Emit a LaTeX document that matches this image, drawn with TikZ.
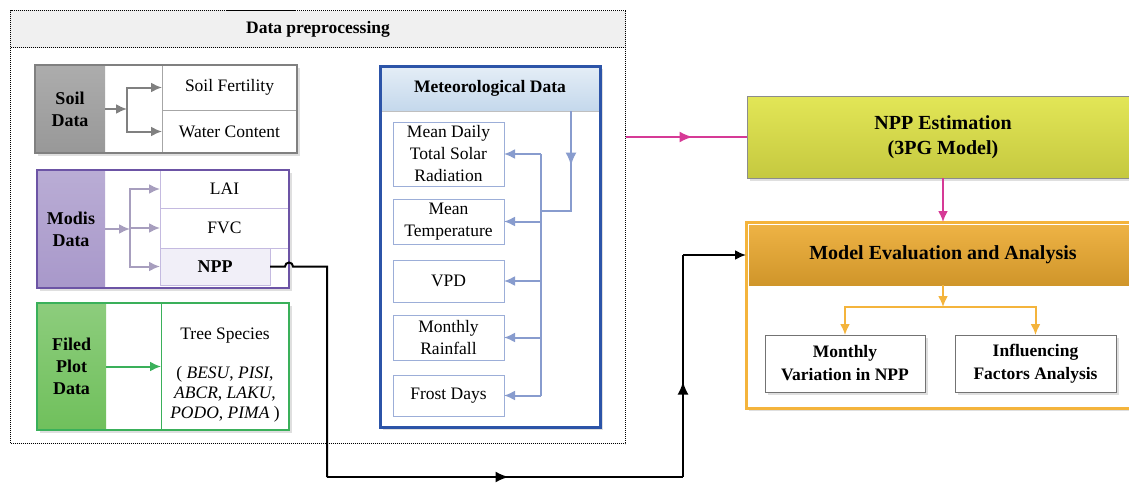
\documentclass[tikz,border=0pt]{standalone}
\usepackage{fontspec}
\setmainfont{Liberation Serif}
\usetikzlibrary{arrows.meta, shadows, decorations.markings}

\definecolor{soilgray}{RGB}{128,128,128}
\definecolor{soilfill}{RGB}{152,152,152}
\definecolor{modispurple}{RGB}{108,84,165}
\definecolor{modisfill}{RGB}{168,152,202}
\definecolor{modislight}{RGB}{196,186,224}
\definecolor{nppfill}{RGB}{241,239,248}
\definecolor{plotgreen}{RGB}{58,176,90}
\definecolor{plotfill}{RGB}{112,192,92}
\definecolor{metblue}{RGB}{44,84,168}
\definecolor{metlight}{RGB}{156,174,216}
\definecolor{metarrow}{RGB}{136,156,206}
\definecolor{methead}{RGB}{196,216,236}
\definecolor{estfill}{RGB}{224,228,72}
\definecolor{evalorange}{RGB}{244,180,60}
\definecolor{evalhead}{RGB}{236,170,48}
\definecolor{linkpink}{RGB}{214,58,150}

\begin{document}
\begin{tikzpicture}[x=1pt,y=1pt,yscale=-1,
  cell/.style={draw, line width=1pt, anchor=north west, inner sep=1pt, outer sep=0pt, align=center,
    font=\fontsize{17.5}{22}\selectfont},
  shade/.style={drop shadow={opacity=0.25, shadow xshift=3pt, shadow yshift=-3pt}},
  group/.style={draw, anchor=north west, inner sep=0pt, outer sep=0pt, fill=white,
    line width=2.5pt, shade},
  tag/.style={anchor=north west, inner sep=0pt, outer sep=0pt, align=center,
    font=\fontsize{18}{22}\selectfont\bfseries},
  link/.style={line width=2pt, -{Latex[length=11pt,width=10pt]}},
  midarrow/.style={postaction={decorate, decoration={markings,
    mark=at position #1 with {\arrow{Latex[length=13pt,width=11pt]}}}}},
]
\useasboundingbox (0,0) rectangle (1129,482);

%Shape: Rectangle -- preprocessing frame
\node[draw, densely dotted, line width=1pt, anchor=north west, inner sep=0pt,
  minimum width=615, minimum height=433] (prep) at (10,10) {};
\node[draw, densely dotted, line width=1pt, fill=black!6, anchor=north west, inner sep=0pt,
  minimum width=615, minimum height=37, font=\fontsize{17.5}{20}\selectfont\bfseries]
  (prephead) at (10,10) {Data preprocessing};

%Shape: Rectangle -- soil
\node[group, draw=soilgray, minimum width=262, minimum height=88] (soilbox) at (35,65) {};
\node[tag, top color=soilfill!80!white, bottom color=soilfill, minimum width=70, minimum height=88]
  (soil) at (35,65) {Soil\\Data};
\node[cell, draw=soilgray!70, minimum width=135, minimum height=45] (fert) at (162,65) {Soil Fertility};
\node[cell, draw=soilgray!70, minimum width=135, minimum height=43] (water) at (162,110) {Water Content};
\draw[soilgray, line width=2.5pt] (soilbox.north west) rectangle (soilbox.south east);

%Straight Lines
\coordinate (soilfork) at (127,109);
\draw[soilgray, link] (soil.east) -- (soilfork);
\draw[soilgray, link] (soilfork) |- (fert.west);
\draw[soilgray, link] (soilfork) |- (water.west);

%Shape: Rectangle -- modis
\node[group, draw=modispurple, minimum width=252, minimum height=118] (modisbox) at (37,170) {};
\node[tag, top color=modisfill!80!white, bottom color=modisfill, minimum width=68, minimum height=118]
  (modis) at (37,170) {Modis\\Data};
\node[cell, draw=modislight, minimum width=129, minimum height=38] (lai) at (160,170) {LAI};
\node[cell, draw=modislight, minimum width=129, minimum height=40] (fvc) at (160,208) {FVC};
\node[cell, draw=modislight, fill=nppfill, minimum width=110, minimum height=37,
  font=\fontsize{18}{22}\selectfont\bfseries] (npp) at (160,248) {NPP};
\draw[modispurple, line width=2.5pt] (modisbox.north west) rectangle (modisbox.south east);

%Straight Lines
\coordinate (modisfork) at (130,229);
\draw[modislight!85!black, link] (modis.east) -- (modisfork);
\foreach \c in {lai,fvc,npp}
  \draw[modislight!85!black, link] (modisfork) |- (\c.west);

%Shape: Rectangle -- field plot
\node[group, draw=plotgreen, minimum width=252, minimum height=127] (plotbox) at (37,303) {};
\node[tag, top color=plotfill!80!white, bottom color=plotfill, minimum width=69, minimum height=127]
  (plot) at (37,303) {Filed\\Plot\\Data};
\node[cell, draw=plotgreen, minimum width=128, minimum height=127, font=\fontsize{17.5}{20}\selectfont]
  (species) at (161,303)
  {\rule{0pt}{28pt}Tree Species\\[19pt](~\textit{BESU}, \textit{PISI},\\\textit{ABCR}, \textit{LAKU},\\\textit{PODO}, \textit{PIMA}~)};
\draw[plotgreen, line width=2.5pt] (plotbox.north west) rectangle (plotbox.south east);

%Straight Lines
\draw[plotgreen, link] (plot.east) -- (species.west);

%Shape: Rectangle -- meteorological data
\node[group, draw=metblue, line width=3pt, minimum width=220, minimum height=361] (metbox) at (380,66) {};
\node[tag, draw=black!25, top color=methead!45!white, bottom color=methead, minimum width=220,
  minimum height=45, font=\fontsize{17.5}{20}\selectfont\bfseries] (methead) at (380,66) {Meteorological Data};
\node[cell, draw=metlight, minimum width=111, minimum height=64]
  (md) at (393,122) {Mean Daily\\Total Solar\\Radiation};
\node[cell, draw=metlight, minimum width=111, minimum height=45]
  (mt) at (393,199) {Mean\\Temperature};
\node[cell, draw=metlight, minimum width=111, minimum height=42] (vpd) at (393,260) {VPD};
\node[cell, draw=metlight, minimum width=111, minimum height=45]
  (mr) at (393,315) {Monthly\\Rainfall};
\node[cell, draw=metlight, minimum width=111, minimum height=41] (fd) at (393,375) {Frost Days};
\draw[metblue, line width=3pt] (metbox.north west) rectangle (metbox.south east);

%Straight Lines
\coordinate (metbus) at (541,211);
\coordinate (metfeed) at (571,211);
\draw[metarrow, line width=2pt, midarrow=0.42] (methead.south -| metfeed) -- (metfeed) -- (metbus);
\draw[metarrow, line width=2pt] (md.east -| metbus) -- (fd.east -| metbus);
\foreach \c in {md,mt,vpd,mr,fd}
  \draw[metarrow, link] (\c.east -| metbus) -- (\c.east);

%Shape: Rectangle -- 3PG estimation
\node[cell, shade, draw=black!45, top color=estfill!92!white, bottom color=estfill!88!black,
  minimum width=392, minimum height=82, font=\fontsize{20}{25}\selectfont\bfseries]
  (est) at (747,96) {NPP Estimation\\(3PG Model)};

%Shape: Rectangle -- evaluation
\node[group, draw=evalorange, line width=3pt, minimum width=394, minimum height=186] (evalbox) at (746,222) {};
\node[tag, top color=evalhead!90!white, bottom color=evalhead!88!black, minimum width=388,
  minimum height=60, font=\fontsize{20}{24}\selectfont\bfseries] (evalhead) at (749,225)
  {Model Evaluation and Analysis};
\node[cell, shade, draw=black!55, fill=white, minimum width=160, minimum height=57,
  font=\fontsize{17.5}{23}\selectfont\bfseries] (mvar) at (765,335) {Monthly\\Variation in NPP};
\node[cell, shade, draw=black!55, fill=white, minimum width=161, minimum height=57,
  font=\fontsize{17.5}{23}\selectfont\bfseries] (infl) at (955,335) {Influencing\\Factors Analysis};

%Straight Lines
\coordinate (evalfork) at (943,307);
\draw[evalorange, link] (evalhead.south) -- (evalfork);
\draw[evalorange, link] (evalfork) -| (mvar.north);
\draw[evalorange, link] (evalfork) -| (infl.north);

%Straight Lines -- pink links
\draw[linkpink, line width=2pt, midarrow=0.55] (prep.east |- est.west) -- (est.west);
\draw[linkpink, link] (est.south) -- (evalbox.north);

%Straight Lines -- NPP validation path
\coordinate (npplow) at (327,477);
\coordinate (evallow) at (683,477);
\draw[line width=2pt] (npp.east) -- ++(15,0) arc (180:360:4) -- (npp.east -| npplow) -- (npplow);
\draw[line width=2pt, midarrow=0.51] (npplow) -- (evallow);
\draw[line width=2pt, midarrow=0.43] (evallow) -- (evallow |- evalhead.west);
\draw[link] (evallow |- evalhead.west) -- (evalbox.west |- evalhead.west);

\end{tikzpicture}
\end{document}
